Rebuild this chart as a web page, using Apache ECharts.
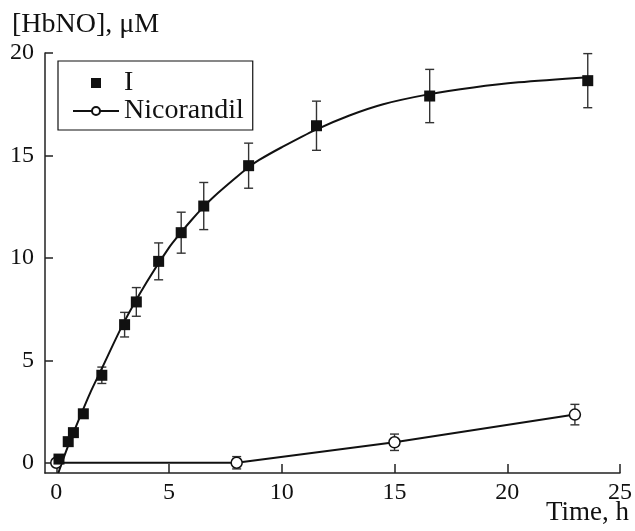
<!DOCTYPE html>
<html>
<head>
<meta charset="utf-8">
<script src="https://cdn.jsdelivr.net/npm/echarts@6/dist/echarts.min.js"></script>
<style>
  html, body { margin: 0; padding: 0; background: #fff; }
  #chart { width: 635px; height: 531px; }
</style>
</head>
<body>
<div id="chart"></div>
<script>
// 数据 I（实心方块）
var timeI = [0.12, 0.53, 0.76, 1.2, 2.02, 3.03, 3.55, 4.54, 5.54, 6.54, 8.53, 11.54, 16.56, 23.57];
var hbnoI = [0.18, 1.03, 1.47, 2.39, 4.27, 6.74, 7.85, 9.83, 11.23, 12.53, 14.5, 16.45, 17.9, 18.65];
var errI = [0, 0, 0, 0, 0.4, 0.6, 0.7, 0.9, 1.0, 1.15, 1.1, 1.2, 1.3, 1.32];
// 拟合曲线
var fitTime = [0.09, 0.5, 1, 1.5, 2, 3, 4, 5, 5.54, 6, 6.54, 7, 8, 8.5, 9, 10, 11.5, 13, 14.5, 16.5, 18.5, 20.5, 23.6];
var fitHbno = [-0.5, 0.75, 2.1, 3.4, 4.55, 6.85, 8.8, 10.5, 11.25, 11.85, 12.5, 13.0, 13.95, 14.4, 14.78, 15.4, 16.25, 16.95, 17.5, 17.98, 18.32, 18.57, 18.82];
// Nicorandil（空心圆）
var timeN = [0, 8, 15, 23];
var hbnoN = [0, 0, 1.0, 2.35];
var errN = [0, 0.3, 0.4, 0.5];
// 刻度
var xTicks = [0, 5, 10, 15, 20, 25];
var yTicks = [0, 5, 10, 15, 20];

var FONT = "Liberation Serif";

function pairs(xs, ys) {
  return xs.map(function (x, i) { return [x, ys[i]]; });
}
function errData(xs, ys, es) {
  var out = [];
  xs.forEach(function (x, i) {
    if (es[i] > 0) out.push([x, ys[i] - es[i], ys[i] + es[i]]);
  });
  return out;
}
function renderErr(params, api) {
  var lo = api.coord([api.value(0), api.value(1)]);
  var hi = api.coord([api.value(0), api.value(2)]);
  var w = 4.5;
  var st = { stroke: "#333", lineWidth: 1.4 };
  return {
    type: "group",
    children: [
      { type: "line", shape: { x1: lo[0], y1: lo[1], x2: hi[0], y2: hi[1] }, style: st },
      { type: "line", shape: { x1: lo[0] - w, y1: lo[1], x2: lo[0] + w, y2: lo[1] }, style: st },
      { type: "line", shape: { x1: hi[0] - w, y1: hi[1], x2: hi[0] + w, y2: hi[1] }, style: st }
    ]
  };
}

var chart = echarts.init(document.getElementById("chart"));
var axisLine = { show: true, onZero: false, lineStyle: { color: "#222", width: 1.5 } };
var option = {
  animation: false,
  backgroundColor: "#fff",
  title: [
    { text: "[HbNO], μM", left: 7, top: 6, textStyle: { fontFamily: FONT, fontSize: 28, fontWeight: "normal", color: "#111" } },
    { text: "Time, h", right: 1, bottom: 0, textStyle: { fontFamily: FONT, fontSize: 27, fontWeight: "normal", color: "#111" } }
  ],
  grid: { left: 45, right: 15, top: 53, bottom: 58 },
  legend: {
    orient: "vertical",
    left: 58, top: 61,
    padding: [8, 9, 5, 14],
    itemGap: 0,
    itemWidth: 46, itemHeight: 10,
    borderColor: "#111", borderWidth: 1.2,
    textStyle: { fontFamily: FONT, fontSize: 28, lineHeight: 25, color: "#111" },
    data: [
      { name: "I", icon: "path://M0,0L10,0L10,10L0,10Z" },
      { name: "Nicorandil" }
    ]
  },
  xAxis: {
    type: "value", min: -0.5, max: 25,
    splitLine: { show: false },
    axisLine: axisLine,
    axisTick: { inside: true, length: 9, customValues: xTicks, lineStyle: { color: "#222", width: 1.5 } },
    axisLabel: { customValues: xTicks, margin: 8, fontFamily: FONT, fontSize: 24, color: "#111" }
  },
  yAxis: {
    type: "value", min: -0.5, max: 20,
    splitLine: { show: false },
    axisLine: axisLine,
    axisTick: { inside: true, length: 8, customValues: yTicks, lineStyle: { color: "#222", width: 1.5 } },
    axisLabel: { customValues: yTicks, margin: 11, fontFamily: FONT, fontSize: 24, color: "#111" }
  },
  series: [
    {
      name: "errI", type: "custom", renderItem: renderErr, z: 1,
      data: errData(timeI, hbnoI, errI)
    },
    {
      name: "errN", type: "custom", renderItem: renderErr, z: 1,
      data: errData(timeN, hbnoN, errN)
    },
    {
      name: "fit", type: "line", smooth: 0.3, showSymbol: false, z: 2,
      lineStyle: { color: "#111", width: 2 },
      data: pairs(fitTime, fitHbno)
    },
    {
      name: "Nicorandil", type: "line", z: 3,
      symbol: "circle", symbolSize: 11,
      lineStyle: { color: "#111", width: 2 },
      itemStyle: { color: "#fff", borderColor: "#111", borderWidth: 1.5 },
      data: pairs(timeN, hbnoN)
    },
    {
      name: "I", type: "scatter", z: 4,
      symbol: "rect", symbolSize: 11,
      itemStyle: { color: "#111", opacity: 1 },
      data: pairs(timeI, hbnoI)
    }
  ]
};
chart.setOption(option);
</script>
</body>
</html>
